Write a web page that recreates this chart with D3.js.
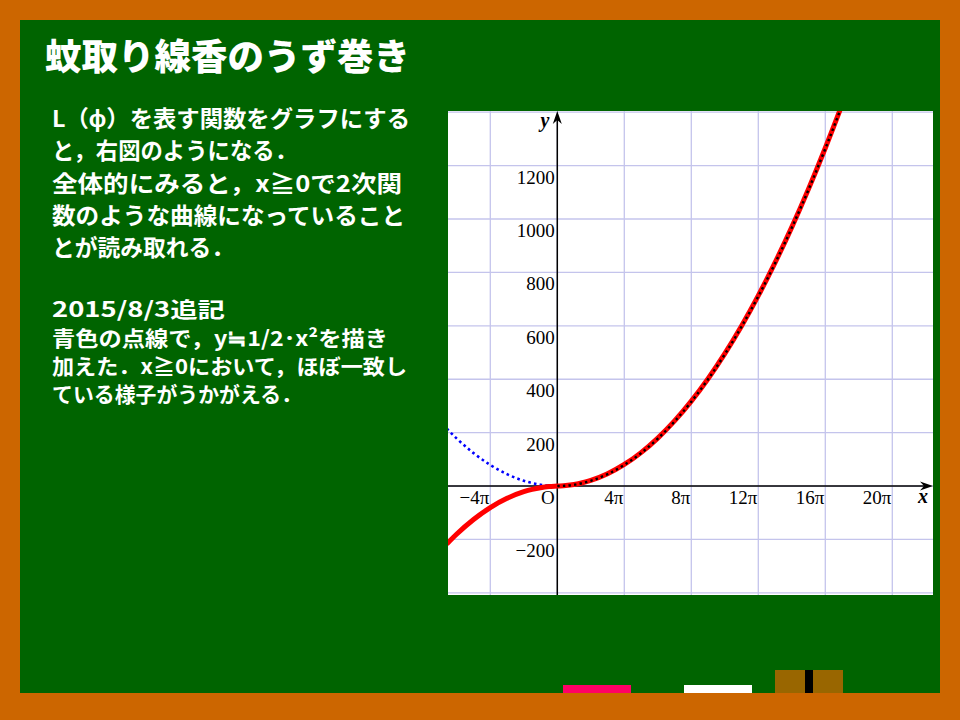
<!DOCTYPE html>
<html><head><meta charset="utf-8">
<script src="https://cdn.jsdelivr.net/npm/d3@7"></script>
<style>html,body{margin:0;padding:0;background:#cc6600;}svg{display:block;}</style>
</head><body>
<script>
// ---- data (x in multiples of π) ----
const xPi    = [-6.6, -6, -5, -4, -3, -2, -1.5, -1, -0.5, 0, 0.5, 1, 1.5, 2, 3, 4, 5, 6, 7, 8, 9, 10, 11, 12, 13, 14, 15, 16, 17, 17.5];
const lPhi   = [-217.1, -179.7, -125.3, -80.8, -46.1, -21.25, -12.48, -6.11, -2.08, 0, 2.08, 6.11, 12.48, 21.25, 46.1, 80.8, 125.3, 179.7, 243.9, 318.0, 402.0, 495.8, 599.5, 713.0, 836.5, 969.7, 1112.9, 1265.9, 1428.7, 1513.9];
const halfX2 = [214.96, 177.65, 123.37, 78.96, 44.41, 19.74, 11.10, 4.93, 1.23, 0, 1.23, 4.93, 11.10, 19.74, 44.41, 78.96, 123.37, 177.65, 241.81, 315.83, 399.72, 493.48, 597.11, 710.61, 833.98, 967.22, 1110.33, 1263.31, 1426.16, 1511.28];
const xTicks = [-4, 4, 8, 12, 16, 20];
const xTickLabels = ["\u22124\u03c0", "4\u03c0", "8\u03c0", "12\u03c0", "16\u03c0", "20\u03c0"];
const yTicks = [-200, 200, 400, 600, 800, 1000, 1200];
const yTickLabels = ["\u2212200", "200", "400", "600", "800", "1000", "1200"];
const xGrid = [-4, 0, 4, 8, 12, 16, 20];
const yGrid = [-400, -200, 0, 200, 400, 600, 800, 1000, 1200, 1400];

const title = "蚊取り線香のうず巻き";
const block1 = ["L（ϕ）を表す関数をグラフにする", "と，右図のようになる．", "全体的にみると，x≧0で2次関", "数のような曲線になっていること", "とが読み取れる．"];
const block1W = [358, 245, 350, 353, 182];
const block1Y = [126.5, 159, 191.5, 224, 256];
const block2 = ["2015/8/3追記", "青色の点線で，y≒1/2･x²を描き", "加えた．x≧0において，ほぼ一致し", "ている様子がうかがえる．"];
const block2W = [173, 336, 355, 250];
const block2Y = [317, 346, 374, 402];

const W = 960, H = 720;
const svg = d3.select("body").append("svg").attr("width", W).attr("height", H);
svg.append("rect").attr("width", W).attr("height", H).attr("fill", "#cc6600");
svg.append("rect").attr("x", 20).attr("y", 20).attr("width", 920).attr("height", 673).attr("fill", "#006400");

const jp = "'Noto Sans CJK JP', sans-serif";
svg.append("text").attr("x", 45).attr("y", 70).attr("fill", "#fff")
  .attr("font-family", jp).attr("font-weight", 900).attr("font-size", 36)
  .attr("textLength", 365).attr("lengthAdjust", "spacingAndGlyphs").text(title);

block1.forEach((t, i) => {
  svg.append("text").attr("x", 52).attr("y", block1Y[i]).attr("fill", "#fff")
    .attr("font-family", jp).attr("font-weight", 700).attr("font-size", 23)
    .attr("textLength", block1W[i]).attr("lengthAdjust", "spacingAndGlyphs").text(t);
});
block2.forEach((t, i) => {
  svg.append("text").attr("x", 52).attr("y", block2Y[i]).attr("fill", "#fff")
    .attr("font-family", jp).attr("font-weight", 700).attr("font-size", 21)
    .attr("textLength", block2W[i]).attr("lengthAdjust", "spacingAndGlyphs").text(t);
});

// ---- chart ----
const L = 448, R = 933, T = 111, B = 595;
const x = d3.scaleLinear().domain([-6.525, 22.43]).range([L, R]);
const y = d3.scaleLinear().domain([-408, 1404.5]).range([B, T]);
const g = svg.append("g");
g.append("rect").attr("x", L).attr("y", T).attr("width", R - L).attr("height", B - T).attr("fill", "#fff");
svg.append("clipPath").attr("id", "clip").append("rect").attr("x", L).attr("y", T).attr("width", R - L).attr("height", B - T);

const grid = g.append("g").attr("stroke", "#c4c4ec").attr("stroke-width", 1.3);
grid.selectAll(".vx").data(xGrid).join("line")
  .attr("x1", d => x(d)).attr("x2", d => x(d)).attr("y1", T).attr("y2", B);
grid.selectAll(".hy").data(yGrid).join("line")
  .attr("y1", d => y(d)).attr("y2", d => y(d)).attr("x1", L).attr("x2", R);

// axes
const ax = g.append("g").attr("stroke", "#000").attr("stroke-width", 1.5);
ax.append("line").attr("x1", L).attr("x2", R - 6).attr("y1", y(0)).attr("y2", y(0));
ax.append("line").attr("x1", x(0)).attr("x2", x(0)).attr("y1", B).attr("y2", T + 6);
g.append("path").attr("d", `M${R},${y(0)} L${R - 13},${y(0) - 4.5} L${R - 9},${y(0)} L${R - 13},${y(0) + 4.5} Z`).attr("fill", "#000");
g.append("path").attr("d", `M${x(0)},${T} L${x(0) - 4.5},${T + 13} L${x(0)},${T + 9} L${x(0) + 4.5},${T + 13} Z`).attr("fill", "#000");

const serif = "'Liberation Serif', 'Times New Roman', serif";
g.selectAll(".xl").data(xTicks).join("text")
  .attr("x", d => x(d) - 1).attr("y", y(0) + 18).attr("text-anchor", "end")
  .attr("font-family", serif).attr("font-size", 19).attr("fill", "#000")
  .text((d, i) => xTickLabels[i]);
g.selectAll(".yl").data(yTicks).join("text")
  .attr("x", x(0) - 2.5).attr("y", d => y(d) + 18).attr("text-anchor", "end")
  .attr("font-family", serif).attr("font-size", 19).attr("fill", "#000")
  .text((d, i) => yTickLabels[i]);
g.append("text").attr("x", x(0) - 2.5).attr("y", y(0) + 18).attr("text-anchor", "end")
  .attr("font-family", serif).attr("font-size", 19).text("O");
g.append("text").attr("x", x(0) - 8).attr("y", T + 16).attr("text-anchor", "end")
  .attr("font-family", serif).attr("font-style", "italic").attr("font-weight", 700).attr("font-size", 20).text("y");
g.append("text").attr("x", R - 5).attr("y", y(0) + 17).attr("text-anchor", "end")
  .attr("font-family", serif).attr("font-style", "italic").attr("font-weight", 700).attr("font-size", 20).text("x");

// curves
const pts = xPi.map((v, i) => ({x: v, l: lPhi[i], h: halfX2[i]}));
const curves = g.append("g").attr("clip-path", "url(#clip)");
const lineL = d3.line().x(d => x(d.x)).y(d => y(d.l)).curve(d3.curveMonotoneX);
const lineH = d3.line().x(d => x(d.x)).y(d => y(d.h)).curve(d3.curveMonotoneX);
curves.append("path").datum(pts.filter(d => d.x <= 0)).attr("d", lineH)
  .attr("fill", "none").attr("stroke", "#0000ff").attr("stroke-width", 2.6).attr("stroke-dasharray", "2.6,3.2");
curves.append("path").datum(pts).attr("d", lineL)
  .attr("fill", "none").attr("stroke", "#ff0000").attr("stroke-width", 5);
curves.append("path").datum(pts.filter(d => d.x >= 0)).attr("d", lineH)
  .attr("fill", "none").attr("stroke", "#000").attr("stroke-width", 2.4).attr("stroke-dasharray", "2.4,3.2");

// chalk & eraser
svg.append("rect").attr("x", 563).attr("y", 685).attr("width", 68).attr("height", 8).attr("fill", "#ff0066");
svg.append("rect").attr("x", 684).attr("y", 685).attr("width", 68).attr("height", 8).attr("fill", "#ffffff");
svg.append("rect").attr("x", 775).attr("y", 670).attr("width", 68).attr("height", 23).attr("fill", "#996600");
svg.append("rect").attr("x", 805).attr("y", 670).attr("width", 8).attr("height", 23).attr("fill", "#000");
</script>
</body></html>
